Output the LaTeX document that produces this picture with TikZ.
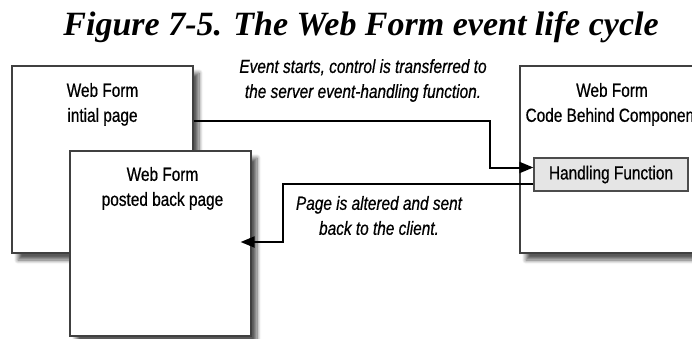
\documentclass[tikz,border=0pt]{standalone}
\usepackage{fontspec}
\setmainfont{Liberation Serif}
\newfontfamily\narrowsans[FakeStretch=0.81,FakeBold=0.6]{Liberation Sans}
\usetikzlibrary{arrows.meta,positioning,shadows.blur}

\tikzset{
  page/.style={draw=black!75, line width=1.2pt, fill=white,
    blur shadow={shadow xshift=6pt, shadow yshift=-7pt, shadow blur steps=8,
      shadow blur radius=4pt, shadow opacity=65}},
  func/.style={draw=black!70, line width=1.2pt, fill=black!10},
  boxtext/.style={font=\narrowsans\fontsize{19}{25}\selectfont, align=center},
  note/.style={font=\narrowsans\itshape\fontsize{19}{25}\selectfont, align=center},
  flow/.style={line width=2pt, -{Triangle[length=14pt,width=11pt]}},
}

\begin{document}
\begin{tikzpicture}[x=1pt, y=-1pt]
    \useasboundingbox (0,0) rectangle (692,338);
    \clip (0,0) rectangle (692,338);

    % Title
    \node[font=\fontsize{34}{40}\selectfont\bfseries\itshape] (caption) at (361,27)
        {Figure 7-5. The Web Form event life cycle};

    % Client pages
    \node[page, minimum width=181pt, minimum height=187pt] (init) at (102.5,159.5) {};
    \node[boxtext] (initlbl) at ([yshift=-39pt]init.north) {Web Form\\intial page};
    \node[page, minimum width=181pt, minimum height=185pt] (posted) at (160.5,243.5) {};
    \node[boxtext] (postedlbl) at ([xshift=2pt,yshift=-38pt]posted.north) {Web Form\\posted back page};

    % Server side
    \node[page, minimum width=184pt, minimum height=187pt] (codebehind) at (612,159.5) {};
    \node[boxtext] (codebehindlbl) at ([yshift=-39pt]codebehind.north) {Web Form\\Code Behind Component};
    \node[func, minimum width=154pt, minimum height=33pt] (handler) at (611,174.5) {};
    \node[boxtext] (handlerlbl) at (handler.center) {Handling Function};

    % Notes
    \node[note] (startnote) at (363,80.5) {Event starts, control is transferred to\\the server event-handling function.};
    \node[note] (backnote) at (379,215.5) {Page is altered and sent\\back to the client.};

    % Connectors
    \coordinate (go) at (490,121);
    \coordinate (ret) at (283,242);
    \draw[flow] (init.east |- go) -- (go) |- ([yshift=7pt]handler.west);
    \draw[flow] ([yshift=-9pt]handler.west) -| (ret) -- ([xshift=-11pt]posted.east |- ret);
\end{tikzpicture}
\end{document}
